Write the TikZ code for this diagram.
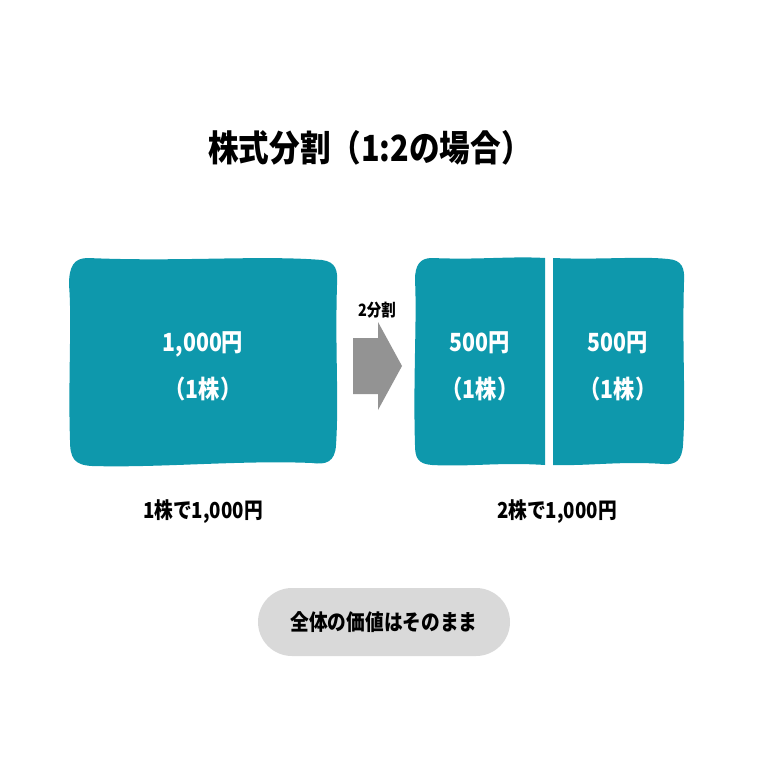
\documentclass[tikz,border=0pt]{standalone}
\usepackage{fontspec}
\setmainfont{Noto Sans CJK JP}[BoldFont={Noto Sans CJK JP Black}]
\definecolor{teal1}{HTML}{0E98AC}
\definecolor{pill}{HTML}{D9D9D9}
\tikzset{lbl/.style={font=\bfseries\fontsize{22}{47}\selectfont,align=center,xscale=0.85},
 wlbl/.style={lbl,text=white,font=\bfseries\fontsize{25}{47}\selectfont},
 boxfill/.style={fill=teal1,draw=none}}
\begin{document}
\begin{tikzpicture}[x=1pt,y=-1pt]
\useasboundingbox (0,0) rectangle (768,768);
% left box
\path[boxfill] (88,258) .. controls (180,262) and (260,255) .. (322,260)
 .. controls (336,262) and (338,270) .. (337,285)
 .. controls (335,350) and (339,400) .. (336,445)
 .. controls (335,462) and (326,465) .. (312,463)
 .. controls (240,460) and (160,468) .. (92,466)
 .. controls (74,465) and (70,458) .. (70,440)
 .. controls (68,380) and (72,320) .. (69,285)
 .. controls (69,266) and (74,258) .. (88,258) -- cycle;
% right boxes
\path[boxfill] (432,258) .. controls (480,260) and (510,256) .. (545,258)
 -- (545,465) .. controls (500,462) and (470,467) .. (432,465)
 .. controls (418,464) and (415,458) .. (415,445)
 .. controls (413,380) and (417,320) .. (415,280)
 .. controls (415,265) and (420,258) .. (432,258) -- cycle;
\path[boxfill] (553,258) .. controls (600,260) and (640,256) .. (668,259)
 .. controls (682,260) and (685,268) .. (684,282)
 .. controls (682,350) and (686,400) .. (683,445)
 .. controls (682,460) and (676,465) .. (664,464)
 .. controls (620,461) and (590,466) .. (553,465) -- cycle;
\node[lbl,font=\bfseries\fontsize{36}{40}\selectfont] (title) at (370,148) {株式分割（1:2の場合）};
\node[wlbl] (l1) at (203,366) {1,000円\\（1株）};
\node[wlbl] (r1) at (480,366) {500円\\（1株）};
\node[wlbl] (r2) at (618,366) {500円\\（1株）};
\node[lbl,font=\bfseries\fontsize{17}{20}\selectfont] (sp) at (377,310) {2分割};
\fill[gray!85] (353,338) -- (378,338) -- (378,322) -- (402,366) -- (378,410) -- (378,394) -- (353,394) -- cycle;
\node[lbl] (c1) at (203,512) {1株で1,000円};
\node[lbl] (c2) at (557,512) {2株で1,000円};
\path[fill=pill,rounded corners=34pt] (258,588) rectangle (510,656);
\node[lbl] (p) at (384,622) {全体の価値はそのまま};
\end{tikzpicture}
\end{document}
